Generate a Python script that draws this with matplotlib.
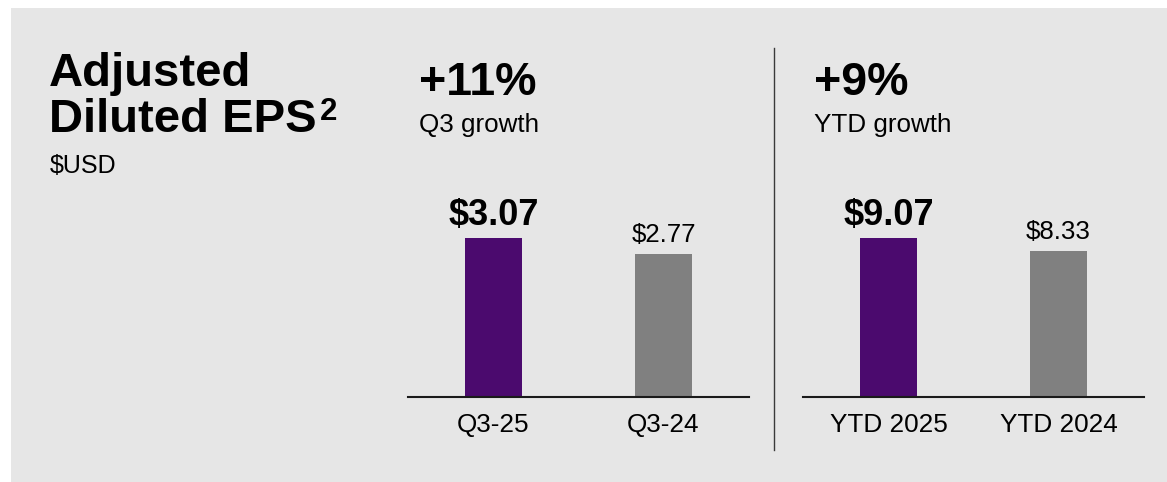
import matplotlib
matplotlib.use("Agg")
import matplotlib.pyplot as plt
from matplotlib.patches import Rectangle
from matplotlib.lines import Line2D

plt.rcParams['font.family'] = ['Liberation Sans', 'DejaVu Sans']

# ---- data ----
title_lines = ["Adjusted", "Diluted EPS"]
title_sup = "2"
unit_label = "$USD"

q3_categories = ["Q3-25", "Q3-24"]
q3_eps = [3.07, 2.77]
q3_growth = "+11%"
q3_growth_label = "Q3 growth"

ytd_categories = ["YTD 2025", "YTD 2024"]
ytd_eps = [9.07, 8.33]
ytd_growth = "+9%"
ytd_growth_label = "YTD growth"

# ---- style ----
W, H = 1167, 482
BG = "#E6E6E6"
PURPLE = "#4B0A6E"
GREY = "#808080"
TXT = "#000000"

fig = plt.figure(figsize=(W / 100, H / 100), dpi=100)
fig.patch.set_facecolor("white")


def fx(px):
    return px / W


def fy(py):
    return 1 - py / H


fig.add_artist(Rectangle((fx(11), 0), 1 - fx(11), fy(8), transform=fig.transFigure,
                         facecolor=BG, edgecolor="none", zorder=-10))

# title block
fig.text(fx(49), fy(86), title_lines[0], fontsize=34, fontweight="bold", color=TXT,
         ha="left", va="baseline")
t2 = fig.text(fx(49), fy(132), title_lines[1], fontsize=34, fontweight="bold", color=TXT,
              ha="left", va="baseline")
fig.canvas.draw()
bb = t2.get_window_extent()
sup_x = (bb.x1 + 3) / W
fig.text(sup_x, fy(120), title_sup, fontsize=22.5, fontweight="bold", color=TXT,
         ha="left", va="baseline")
fig.text(fx(50), fy(173), unit_label, fontsize=18, color=TXT, ha="left", va="baseline")


def panel(left_px, cats, vals, growth, growth_label):
    ax_w, ax_h = 341, 217
    ax = fig.add_axes([fx(left_px), fy(397), ax_w / W, ax_h / H])
    ax.set_facecolor("none")
    xs = list(range(len(vals)))
    ax.bar(xs, vals, width=57 / 170, color=[PURPLE, GREY], zorder=2)
    ax.set_xlim(-85.5 / 170, len(vals) - 1 + 85.5 / 170)
    ax.set_ylim(0, max(vals) * ax_h / 159)
    for s in ["top", "right", "left"]:
        ax.spines[s].set_visible(False)
    ax.spines["bottom"].set_color("#1a1a1a")
    ax.spines["bottom"].set_linewidth(1.5)
    ax.spines["bottom"].set_zorder(3)
    ax.set_yticks([])
    ax.set_xticks(xs)
    ax.set_xticklabels(cats, fontsize=18.8, color=TXT)
    ax.tick_params(axis="x", length=0, pad=11.5)
    for i, v in enumerate(vals):
        if i == 0:
            ax.annotate(f"${v:.2f}", xy=(i, v), xytext=(0, 9.7), textcoords="offset points",
                        ha="center", va="baseline", fontsize=26, fontweight="bold", color=TXT)
        else:
            ax.annotate(f"${v:.2f}", xy=(i, v), xytext=(0, 8.3), textcoords="offset points",
                        ha="center", va="baseline", fontsize=18.6, color=TXT)
    fig.text(fx(left_px + 11), fy(95), growth, fontsize=33.5, fontweight="bold", color=TXT,
             ha="left", va="baseline")
    fig.text(fx(left_px + 11), fy(132), growth_label, fontsize=18.7, color=TXT,
             ha="left", va="baseline")
    return ax


panel(408, q3_categories, q3_eps, q3_growth, q3_growth_label)
panel(803, ytd_categories, ytd_eps, ytd_growth, ytd_growth_label)

fig.add_artist(Line2D([fx(774), fx(774)], [fy(48), fy(450)], transform=fig.transFigure,
                      color="#3a3a3a", linewidth=1.0))

fig.savefig("out.png", dpi=100, facecolor=fig.get_facecolor())
